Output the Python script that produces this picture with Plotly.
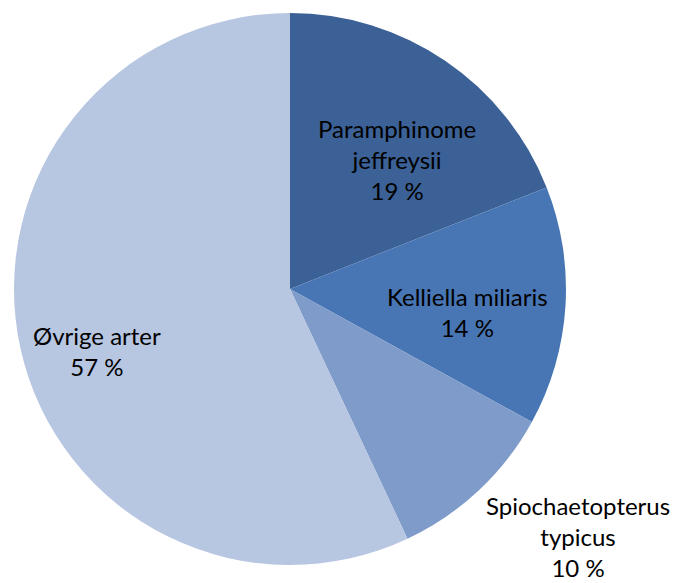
import plotly.graph_objects as go

labels = ["Paramphinome<br>jeffreysii", "Kelliella miliaris", "Spiochaetopterus<br>typicus", "Øvrige arter"]
values = [19, 14, 10, 57]
colors = ["#3B6196", "#4876B4", "#7E9BC9", "#B7C6E1"]

# label anchor positions (paper coords) for each slice's text block
label_pos = [(0.694, 0.734), (0.822, 0.458), (1.022, 0.052), (0.150, 0.388)]

W, H = 676, 583
fig = go.Figure(go.Pie(
    labels=labels, values=values, sort=False, direction="clockwise", rotation=0,
    marker=dict(colors=colors, line=dict(width=0)),
    textinfo="none", hoverinfo="label+percent", showlegend=False,
))

for lab, v, (x, y) in zip(labels, values, label_pos):
    fig.add_annotation(x=x, y=y, xref="paper", yref="paper",
                       text=f"{lab}<br>{v} %", showarrow=False,
                       font=dict(family="Lato", size=24, color="#000000"),
                       xanchor="center", yanchor="middle", align="center")

fig.update_layout(width=W, height=H, margin=dict(l=14, r=110, t=13, b=18),
                  paper_bgcolor="white", plot_bgcolor="white")
fig.write_html("out.html")
